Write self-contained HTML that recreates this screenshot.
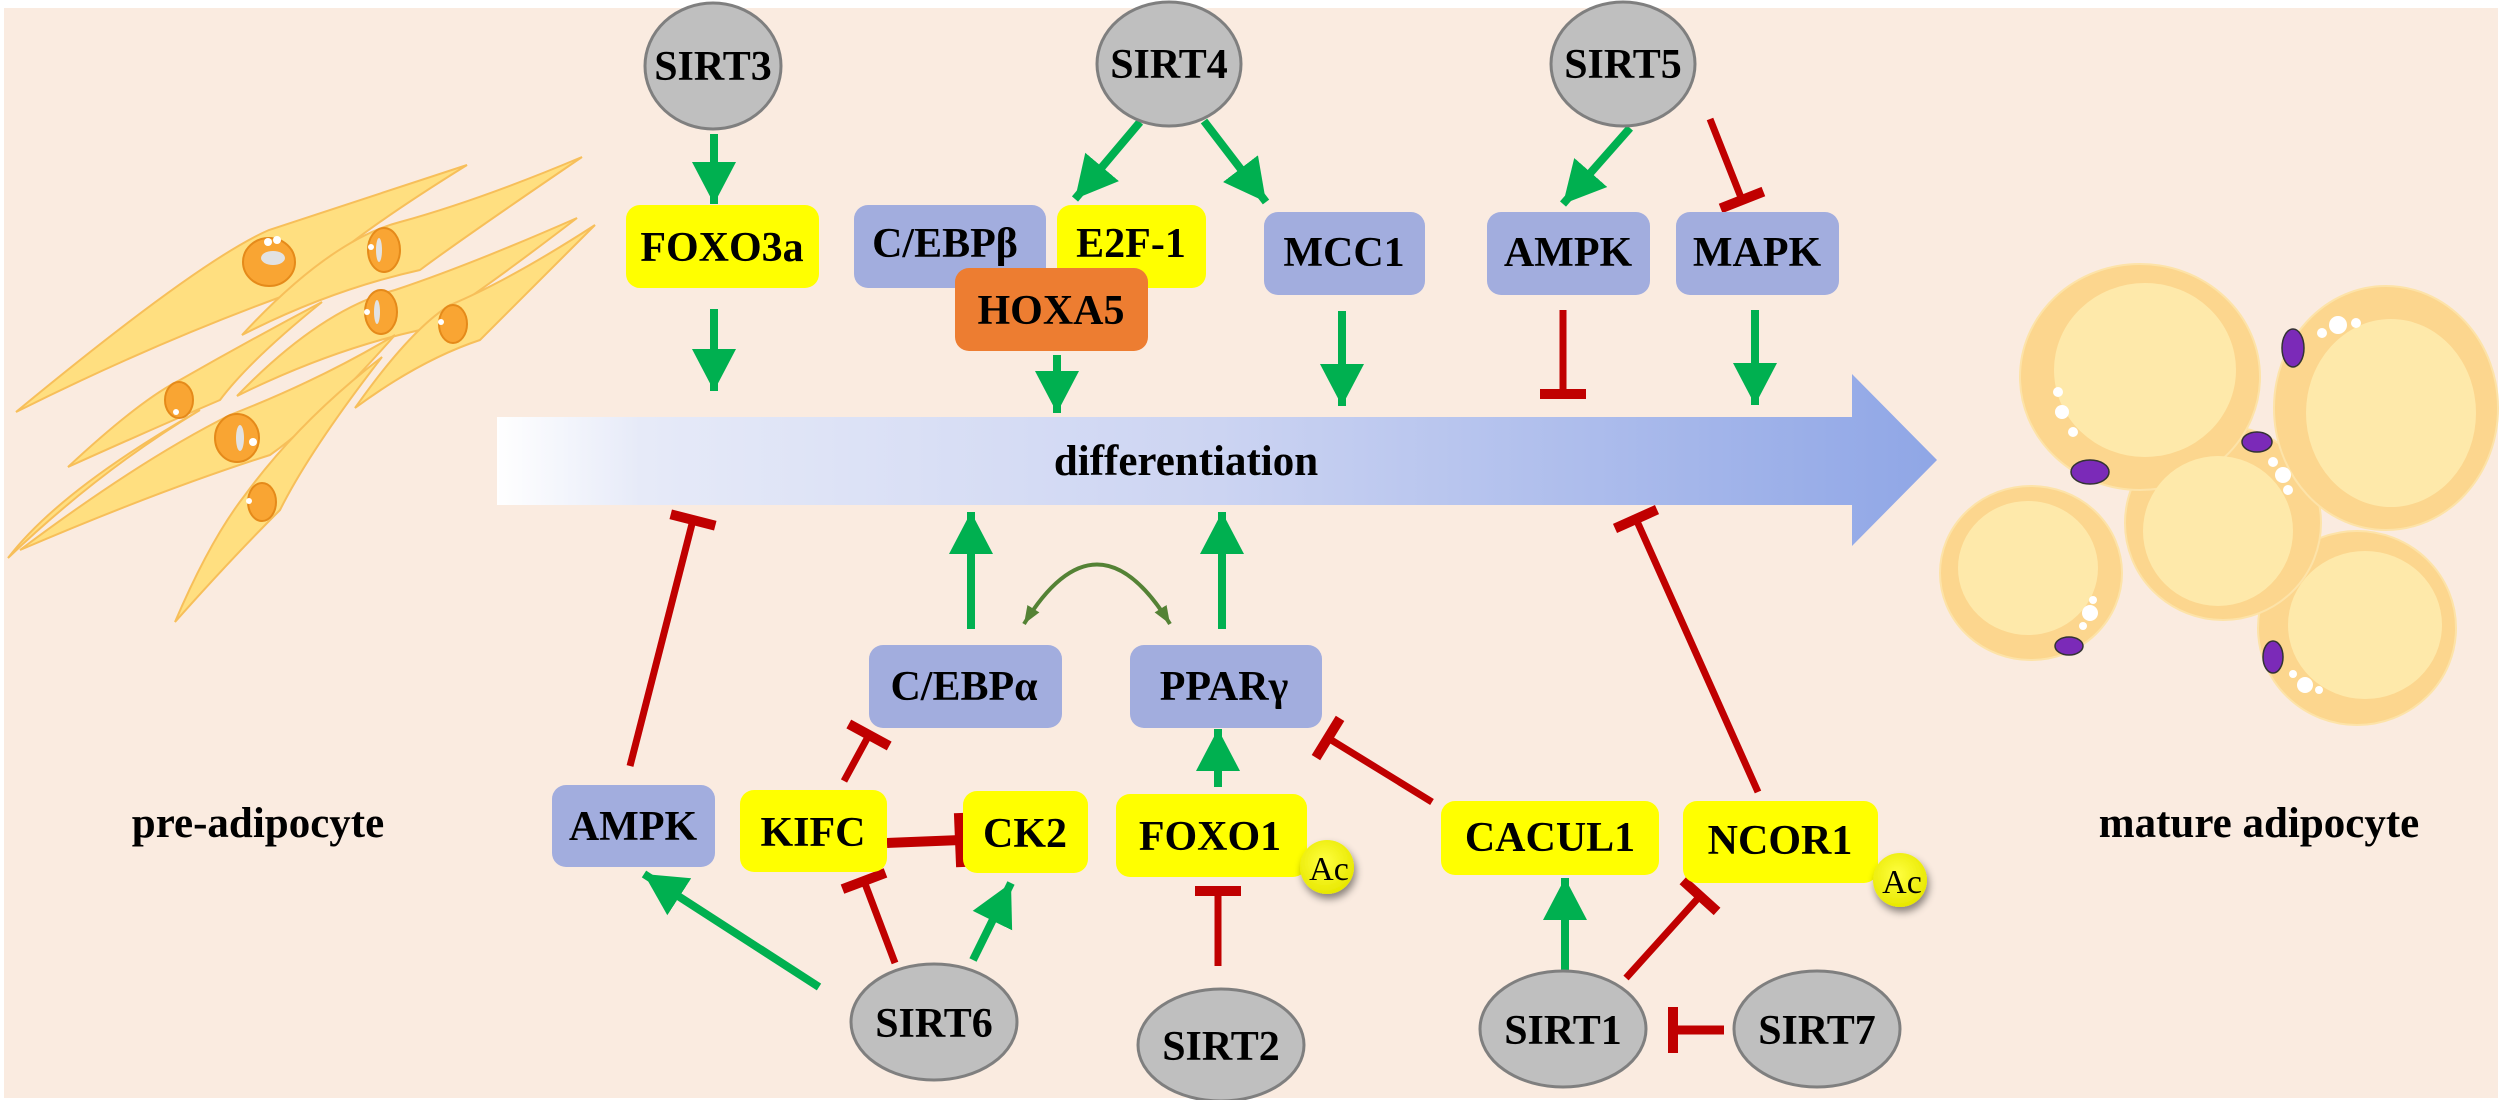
<!DOCTYPE html>
<html><head><meta charset="utf-8"><style>
html,body{margin:0;padding:0;background:#fff;}
svg{display:block;}
text{font-family:"Liberation Serif",serif;font-weight:bold;}
</style></head><body>
<svg width="2500" height="1100" viewBox="0 0 2500 1100" xmlns="http://www.w3.org/2000/svg">
<defs>
<linearGradient id="band" x1="497" y1="0" x2="1940" y2="0" gradientUnits="userSpaceOnUse">
<stop offset="0" stop-color="#ffffff"/><stop offset="0.1" stop-color="#E6EAF8"/><stop offset="0.5" stop-color="#CCD4F2"/><stop offset="1" stop-color="#8FA6E6"/>
</linearGradient>
<radialGradient id="acg" cx="0.45" cy="0.4" r="0.6"><stop offset="0" stop-color="#FFFF40"/><stop offset="1" stop-color="#E8E800"/></radialGradient>
<marker id="ga" markerUnits="userSpaceOnUse" markerWidth="46" markerHeight="46" refX="42" refY="23" orient="auto"><path d="M0,1 L42,23 L0,45 z" fill="#00B050"/></marker>
<marker id="rb" markerUnits="userSpaceOnUse" markerWidth="14" markerHeight="50" refX="7" refY="25" orient="auto"><rect x="2" y="2" width="10" height="46" fill="#C00000"/></marker>
<marker id="rb2" markerUnits="userSpaceOnUse" markerWidth="16" markerHeight="58" refX="8" refY="29" orient="auto"><rect x="2" y="2" width="10" height="54" fill="#C00000"/></marker>
<marker id="oa" markerUnits="userSpaceOnUse" markerWidth="20" markerHeight="16" refX="18" refY="8" orient="auto-start-reverse"><path d="M0,1 L18,8 L0,15 z" fill="#548235"/></marker>
<filter id="sh" x="-50%" y="-50%" width="200%" height="200%"><feDropShadow dx="2" dy="5" stdDeviation="4" flood-color="#000" flood-opacity="0.45"/></filter>
</defs>
<rect x="0" y="0" width="2500" height="1100" fill="#fff"/>
<rect x="4" y="8" width="2494" height="1090" fill="#FAEBE0"/>

<!-- pre-adipocyte spindles -->
<g fill="#FFDF80" stroke="#F7BF5A" stroke-width="2">
<path d="M16,412 Q200,260 269,230 Q360,200 467,165 Q330,250 300,290 Q160,340 16,412 z"/>
<path d="M242,335 Q330,240 400,222 Q480,200 582,157 Q460,240 420,270 Q330,290 242,335 z"/>
<path d="M237,396 Q320,310 395,290 Q470,265 577,218 Q470,300 420,330 Q330,350 237,396 z"/>
<path d="M355,408 Q410,330 450,305 Q510,280 595,225 Q520,300 480,340 Q420,360 355,408 z"/>
<path d="M68,467 Q140,400 180,380 Q250,340 322,302 Q250,360 220,400 Q150,430 68,467 z"/>
<path d="M20,550 Q140,460 230,415 Q320,380 395,335 Q320,420 270,455 Q160,490 20,550 z"/>
<path d="M175,622 Q210,540 245,495 Q300,420 382,357 Q310,450 280,510 Q230,560 175,622 z"/>
<path d="M8,558 Q100,470 200,410 Q60,490 8,558 z"/>
</g>
<g fill="#F9A533" stroke="#E58A1A" stroke-width="2">
<ellipse cx="269" cy="262" rx="26" ry="24"/><ellipse cx="384" cy="250" rx="16" ry="22"/><ellipse cx="381" cy="312" rx="16" ry="22"/>
<ellipse cx="453" cy="324" rx="14" ry="19"/><ellipse cx="179" cy="400" rx="14" ry="18"/><ellipse cx="237" cy="438" rx="22" ry="24"/><ellipse cx="262" cy="502" rx="14" ry="19"/>
</g>
<g fill="#fff"><circle cx="268" cy="242" r="4"/><circle cx="277" cy="240" r="4"/><circle cx="371" cy="247" r="3"/><circle cx="367" cy="312" r="3"/><circle cx="441" cy="322" r="3"/><circle cx="176" cy="412" r="3"/><circle cx="253" cy="442" r="4"/><circle cx="249" cy="501" r="3"/></g>
<g fill="#E2E2E2"><ellipse cx="273" cy="258" rx="12" ry="7"/><ellipse cx="379" cy="250" rx="3" ry="12"/><ellipse cx="377" cy="312" rx="3" ry="12"/><ellipse cx="240" cy="438" rx="4" ry="13"/></g>

<!-- mature adipocytes -->
<g fill="#FCD68E" stroke="#FDE3A8" stroke-width="2">
<ellipse cx="2031" cy="573" rx="91" ry="87"/><ellipse cx="2357" cy="628" rx="99" ry="97"/>
<ellipse cx="2223" cy="523" rx="98" ry="97"/><ellipse cx="2140" cy="377" rx="120" ry="113"/><ellipse cx="2386" cy="408" rx="112" ry="122"/>
</g>
<g fill="#FEE9AA">
<ellipse cx="2028" cy="568" rx="70" ry="67"/><ellipse cx="2365" cy="625" rx="77" ry="74"/>
<ellipse cx="2218" cy="531" rx="75" ry="75"/><ellipse cx="2145" cy="370" rx="91" ry="87"/><ellipse cx="2391" cy="413" rx="85" ry="94"/>
</g>
<g fill="#7B2AB8" stroke="#333" stroke-width="1.5">
<ellipse cx="2090" cy="472" rx="19" ry="12"/><ellipse cx="2293" cy="348" rx="11" ry="19"/><ellipse cx="2257" cy="442" rx="15" ry="10"/><ellipse cx="2069" cy="646" rx="14" ry="9"/><ellipse cx="2273" cy="657" rx="10" ry="16"/>
</g>
<g fill="#fff"><circle cx="2062" cy="412" r="7"/><circle cx="2073" cy="432" r="5"/><circle cx="2058" cy="392" r="5"/>
<circle cx="2338" cy="325" r="9"/><circle cx="2322" cy="333" r="5"/><circle cx="2356" cy="323" r="5"/>
<circle cx="2283" cy="475" r="8"/><circle cx="2273" cy="462" r="5"/><circle cx="2288" cy="490" r="5"/>
<circle cx="2090" cy="613" r="8"/><circle cx="2093" cy="600" r="4"/><circle cx="2083" cy="626" r="4"/>
<circle cx="2305" cy="685" r="8"/><circle cx="2293" cy="674" r="4"/><circle cx="2319" cy="690" r="4"/></g>

<!-- differentiation band -->
<path d="M497,417 L1852,417 L1852,374 L1937,460 L1852,546 L1852,505 L497,505 z" fill="url(#band)"/>
<text x="1186" y="475" font-size="43" text-anchor="middle">differentiation</text>

<!-- connectors -->
<g stroke="#00B050" stroke-width="8" fill="none" marker-end="url(#ga)">
<line x1="714" y1="134" x2="714" y2="204"/>
<line x1="714" y1="309" x2="714" y2="391"/>
<line x1="1140" y1="122" x2="1075" y2="199"/>
<line x1="1204" y1="121" x2="1266" y2="202"/>
<line x1="1057" y1="355" x2="1057" y2="413"/>
<line x1="1342" y1="311" x2="1342" y2="406"/>
<line x1="1630" y1="128" x2="1563" y2="204"/>
<line x1="1755" y1="310" x2="1755" y2="405"/>
<line x1="971" y1="629" x2="971" y2="512"/>
<line x1="1222" y1="629" x2="1222" y2="512"/>
<line x1="1218" y1="787" x2="1218" y2="729"/>
<line x1="819" y1="987" x2="644" y2="874"/>
<line x1="973" y1="960" x2="1011" y2="883"/>
<line x1="1565" y1="976" x2="1565" y2="878"/>
</g>
<g stroke="#C00000" stroke-width="7" fill="none" marker-end="url(#rb)">
<line x1="1710" y1="119" x2="1742" y2="200"/>
<line x1="1563" y1="310" x2="1563" y2="394"/>
<line x1="630" y1="766" x2="693" y2="520"/>
<line x1="1758" y1="792" x2="1636" y2="519"/>
<line x1="844" y1="781" x2="869" y2="735"/>
<line x1="895" y1="963" x2="864" y2="881"/>
<line x1="1218" y1="966" x2="1218" y2="891"/>
<line x1="1432" y1="802" x2="1328" y2="738"/>
<line x1="1626" y1="978" x2="1700" y2="896"/>
<line x1="1724" y1="1030" x2="1673" y2="1030" stroke-width="9"/>
<line x1="887" y1="843" x2="961" y2="840" stroke-width="10" marker-end="url(#rb2)"/>
</g>
<path d="M1024,624 Q1097,505 1170,624" stroke="#548235" stroke-width="4" fill="none" marker-start="url(#oa)" marker-end="url(#oa)"/>

<!-- boxes -->
<g font-size="42" text-anchor="middle">
<rect x="626" y="205" width="193" height="83" rx="14" fill="#FFFF00"/><text x="722" y="261">FOXO3a</text>
<rect x="854" y="205" width="192" height="83" rx="14" fill="#A2ADDE"/><text x="945" y="257">C/EBPβ</text>
<rect x="1057" y="205" width="149" height="83" rx="14" fill="#FFFF00"/><text x="1131" y="257">E2F-1</text>
<rect x="955" y="268" width="193" height="83" rx="14" fill="#ED7D31"/><text x="1051" y="324">HOXA5</text>
<rect x="1264" y="212" width="161" height="83" rx="14" fill="#A2ADDE"/><text x="1344" y="266">MCC1</text>
<rect x="1487" y="212" width="163" height="83" rx="14" fill="#A2ADDE"/><text x="1568" y="266">AMPK</text>
<rect x="1676" y="212" width="163" height="83" rx="14" fill="#A2ADDE"/><text x="1757" y="266">MAPK</text>
<rect x="869" y="645" width="193" height="83" rx="14" fill="#A2ADDE"/><text x="964" y="700">C/EBPα</text>
<rect x="1130" y="645" width="192" height="83" rx="14" fill="#A2ADDE"/><text x="1224" y="700">PPARγ</text>
<rect x="552" y="785" width="163" height="82" rx="14" fill="#A2ADDE"/><text x="633" y="840">AMPK</text>
<rect x="740" y="790" width="147" height="82" rx="14" fill="#FFFF00"/><text x="813" y="846">KIFC</text>
<rect x="963" y="791" width="125" height="82" rx="14" fill="#FFFF00"/><text x="1025" y="847">CK2</text>
<rect x="1116" y="794" width="191" height="83" rx="14" fill="#FFFF00"/><text x="1210" y="850">FOXO1</text>
<rect x="1441" y="801" width="218" height="74" rx="14" fill="#FFFF00"/><text x="1550" y="851">CACUL1</text>
<rect x="1683" y="801" width="195" height="82" rx="14" fill="#FFFF00"/><text x="1780" y="854">NCOR1</text>
</g>
<!-- Ac -->
<g filter="url(#sh)"><circle cx="1327" cy="867" r="27" fill="url(#acg)"/><circle cx="1900" cy="880" r="27" fill="url(#acg)"/></g>
<g font-size="34" text-anchor="middle"><text x="1329" y="880" style="font-weight:normal">Ac</text><text x="1902" y="893" style="font-weight:normal">Ac</text></g>

<!-- SIRT ellipses -->
<g fill="#BFBFBF" stroke="#7F7F7F" stroke-width="3">
<ellipse cx="713" cy="66" rx="68" ry="63"/><ellipse cx="1169" cy="64" rx="72" ry="62"/><ellipse cx="1623" cy="64" rx="72" ry="62"/>
<ellipse cx="934" cy="1022" rx="83" ry="58"/><ellipse cx="1221" cy="1045" rx="83" ry="56"/><ellipse cx="1563" cy="1029" rx="83" ry="58"/><ellipse cx="1817" cy="1029" rx="83" ry="58"/>
</g>
<g font-size="42" text-anchor="middle">
<text x="713" y="80">SIRT3</text><text x="1169" y="78">SIRT4</text><text x="1623" y="78">SIRT5</text>
<text x="934" y="1037">SIRT6</text><text x="1221" y="1060">SIRT2</text><text x="1563" y="1044">SIRT1</text><text x="1817" y="1044">SIRT7</text>
<text x="258" y="837" font-size="43">pre-adipocyte</text>
<text x="2259" y="837" font-size="43">mature adipocyte</text>
</g>
</svg>
</body></html>
